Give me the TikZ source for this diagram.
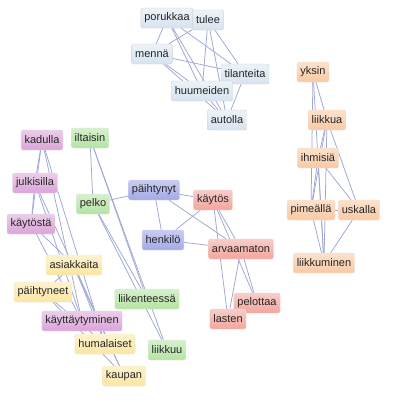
\documentclass[tikz,border=0pt]{standalone}
\usepackage{fontspec}
\setmainfont{Liberation Sans}
\usetikzlibrary{backgrounds}
\usepackage{xcolor}

\definecolor{edgecol}{HTML}{9EA6D6}
\definecolor{grayblue}{HTML}{D6E3F0}
\definecolor{orangec}{HTML}{F9C9A3}
\definecolor{pinkc}{HTML}{DBA4D8}
\definecolor{greenc}{HTML}{B5E3A4}
\definecolor{bluec}{HTML}{A3AAE6}
\definecolor{redc}{HTML}{F3A59D}
\definecolor{yellowc}{HTML}{FBE6A2}

\begin{document}
\begin{tikzpicture}[
    x=1pt, y=-1pt,
    word/.style={rounded corners=2pt, minimum height=20pt, inner xsep=3.5pt,
                 inner ysep=2pt, font=\fontsize{11}{13}\selectfont, text=black!85},
    topw/.style={word, draw=black!18, top color=grayblue!45, bottom color=grayblue},
    orw/.style={word, draw=orangec!80!black!30, top color=orangec!55, bottom color=orangec},
    piw/.style={word, draw=pinkc!80!black!30, top color=pinkc!55, bottom color=pinkc},
    grw/.style={word, draw=greenc!80!black!30, top color=greenc!55, bottom color=greenc},
    blw/.style={word, draw=bluec!80!black!30, top color=bluec!60, bottom color=bluec},
    rdw/.style={word, draw=redc!80!black!30, top color=redc!55, bottom color=redc},
    yew/.style={word, draw=yellowc!80!black!30, top color=yellowc!50, bottom color=yellowc},
    link/.style={draw=edgecol, line width=0.75pt}
  ]
  \useasboundingbox (0,0) rectangle (408,402);

  % top group
  \node[topw] (porukkaa) at (167,18) {porukkaa};
  \node[topw] (tulee) at (208,20) {tulee};
  \node[topw] (menna) at (152,54) {mennä};
  \node[topw] (tilanteita) at (245,74) {tilanteita};
  \node[topw] (huumeiden) at (202,91) {huumeiden};
  \node[topw] (autolla) at (227,120) {autolla};

  % right group
  \node[orw] (yksin) at (313,72) {yksin};
  \node[orw] (liikkua) at (327,120) {liikkua};
  \node[orw] (ihmisia) at (318,158) {ihmisiä};
  \node[orw] (pimealla) at (311,210) {pimeällä};
  \node[orw] (uskalla) at (359,210) {uskalla};
  \node[orw] (liikkuminen) at (324,263) {liikkuminen};

  % left groups
  \node[piw] (kadulla) at (42,140) {kadulla};
  \node[piw] (julkisilla) at (35,183) {julkisilla};
  \node[piw] (kaytosta) at (31,224) {käytöstä};
  \node[piw] (kayttaytyminen) at (82,321) {käyttäytyminen};
  \node[yew] (asiakkaita) at (74,265) {asiakkaita};
  \node[yew] (paihtyneet) at (43,292) {päihtyneet};
  \node[yew] (humalaiset) at (105,344) {humalaiset};
  \node[yew] (kaupan) at (124,376) {kaupan};
  \node[grw] (iltaisin) at (90,138) {iltaisin};
  \node[grw] (pelko) at (93,204) {pelko};
  \node[grw] (liikenteessa) at (147,299) {liikenteessä};
  \node[grw] (liikkuu) at (167,350) {liikkuu};

  % middle group
  \node[blw] (paihtynyt) at (154,190) {päihtynyt};
  \node[blw] (henkilo) at (163,240) {henkilö};
  \node[rdw] (kaytos) at (213,200) {käytös};
  \node[rdw] (arvaamaton) at (241,249) {arvaamaton};
  \node[rdw] (pelottaa) at (257,303) {pelottaa};
  \node[rdw] (lasten) at (228,319) {lasten};

  \begin{scope}[on background layer]
    \fill[white] (0,0) rectangle (408,402);
    \foreach \a/\b in {porukkaa/menna, porukkaa/huumeiden, porukkaa/autolla,
        porukkaa/tilanteita, tulee/menna, tulee/huumeiden, tulee/autolla,
        tulee/tilanteita, menna/tilanteita, menna/huumeiden, menna/autolla,
        huumeiden/autolla, tilanteita/autolla}
      \draw[link] (\a) -- (\b);
    \foreach \a/\b in {yksin/liikkua, yksin/pimealla, yksin/liikkuminen,
        liikkua/ihmisia, liikkua/pimealla, liikkua/liikkuminen, liikkua/uskalla,
        ihmisia/uskalla, ihmisia/liikkuminen, ihmisia/pimealla,
        pimealla/uskalla, pimealla/liikkuminen, uskalla/liikkuminen}
      \draw[link] (\a) -- (\b);
    \foreach \a/\b in {kadulla/julkisilla, kadulla/kaytosta, kadulla/kayttaytyminen,
        kadulla/humalaiset, julkisilla/kaytosta, julkisilla/kayttaytyminen,
        julkisilla/kaupan, kaytosta/asiakkaita, kaytosta/kayttaytyminen,
        asiakkaita/paihtyneet, asiakkaita/kaupan, asiakkaita/humalaiset,
        paihtyneet/kaupan, paihtyneet/humalaiset}
      \draw[link] (\a) -- (\b);
    \foreach \a/\b in {iltaisin/pelko, iltaisin/liikkuu, iltaisin/liikenteessa,
        pelko/liikenteessa, pelko/liikkuu, pelko/paihtynyt}
      \draw[link] (\a) -- (\b);
    \foreach \a/\b in {paihtynyt/kaytos, paihtynyt/henkilo, paihtynyt/arvaamaton,
        henkilo/kaytos, henkilo/arvaamaton, kaytos/arvaamaton, kaytos/lasten,
        kaytos/pelottaa, arvaamaton/lasten, arvaamaton/pelottaa}
      \draw[link] (\a) -- (\b);
  \end{scope}
\end{tikzpicture}
\end{document}
